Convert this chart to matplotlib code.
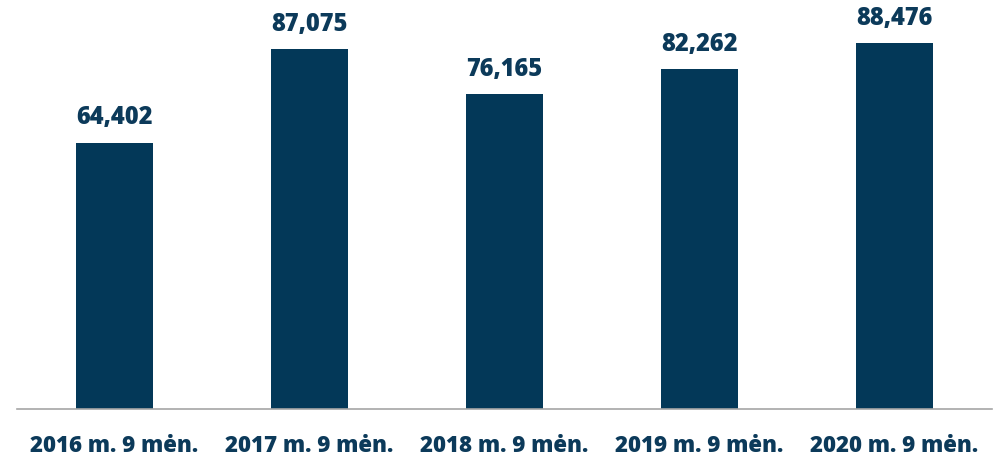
import matplotlib
matplotlib.use("Agg")
from matplotlib import pyplot as plt

# data
categories = ["2016 m. 9 mėn.", "2017 m. 9 mėn.", "2018 m. 9 mėn.",
              "2019 m. 9 mėn.", "2020 m. 9 mėn."]
values = [64402, 87075, 76165, 82262, 88476]

BAR_COLOR = "#033858"
TEXT_COLOR = "#0c3a5a"

plt.rcParams['font.family'] = ['Open Sans', 'DejaVu Sans']

fig = plt.figure(figsize=(10, 4.59), dpi=100)
ax = fig.add_axes([0.017, 1 - 409 / 459, 0.975, 409 / 459])

x = range(len(categories))
bars = ax.bar(x, values, width=0.395, color=BAR_COLOR)

for rect, v in zip(bars, values):
  ax.annotate(f"{v:,}", (rect.get_x() + rect.get_width() / 2, v),
              xytext=(0, 9), textcoords="offset points",
              ha="center", va="bottom", fontsize=17, fontweight=800,
              color=TEXT_COLOR)

ax.set_xlim(-0.5, len(categories) - 0.5)
ax.set_ylim(0, 99000)
ax.set_xticks(list(x))
ax.set_xticklabels(categories, fontsize=16, fontweight=800, color=TEXT_COLOR)
ax.tick_params(axis="x", length=0, pad=18)
ax.set_yticks([])

for side in ("top", "right", "left"):
  ax.spines[side].set_visible(False)
ax.spines["bottom"].set_color("#a6a6a6")
ax.spines["bottom"].set_linewidth(1.2)

fig.savefig("out.png", dpi=100)
